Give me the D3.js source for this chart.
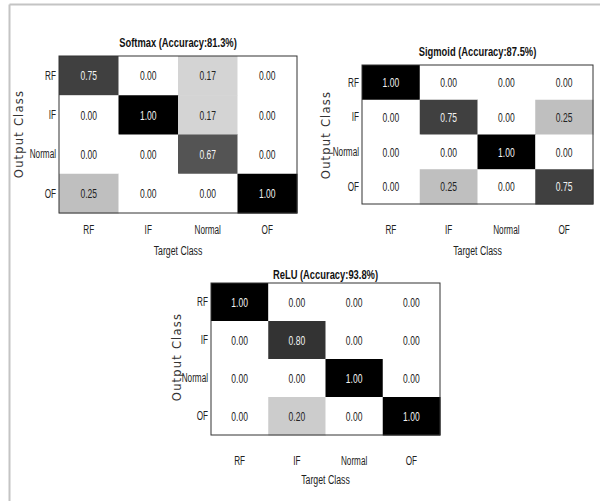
<!DOCTYPE html>
<html>
<head>
<meta charset="utf-8">
<script src="https://cdn.jsdelivr.net/npm/d3@7/dist/d3.min.js"></script>
<style>
  html, body { margin: 0; padding: 0; background: #fff; }
  svg { display: block; }
</style>
</head>
<body>
<script>
// ---------------- data ----------------
const classes = ["RF", "IF", "Normal", "OF"];
const panelTitles = ["Softmax (Accuracy:81.3%)", "Sigmoid (Accuracy:87.5%)", "ReLU (Accuracy:93.8%)"];
// rows = output class, columns = target class
const softmaxValues = [
  [0.75, 0.00, 0.17, 0.00],
  [0.00, 1.00, 0.17, 0.00],
  [0.00, 0.00, 0.67, 0.00],
  [0.25, 0.00, 0.00, 1.00]
];
const sigmoidValues = [
  [1.00, 0.00, 0.00, 0.00],
  [0.00, 0.75, 0.00, 0.25],
  [0.00, 0.00, 1.00, 0.00],
  [0.00, 0.25, 0.00, 0.75]
];
const reluValues = [
  [1.00, 0.00, 0.00, 0.00],
  [0.00, 0.80, 0.00, 0.00],
  [0.00, 0.00, 1.00, 0.00],
  [0.00, 0.20, 0.00, 1.00]
];
const xAxisTitle = "Target Class";
const yAxisTitle = "Output Class";

// ---------------- layout ----------------
const W = 600, H = 501;
const layouts = [
  { x0: 59,  x1: 297, y0: 56,  y1: 213, titleY: 47,  yTickX: 56,  yLabX: 23,  yLabY: 134, xTickY: 234, xLabY: 255 },
  { x0: 362, x1: 593, y0: 65,  y1: 204, titleY: 56,  yTickX: 359, yLabX: 330, yLabY: 135, xTickY: 234, xLabY: 255 },
  { x0: 211, x1: 440, y0: 283, y1: 435, titleY: 279, yTickX: 208, yLabX: 181, yLabY: 357, xTickY: 465, xLabY: 484 }
];
const panelValues = [softmaxValues, sigmoidValues, reluValues];

const narrowFont = "'Liberation Sans', Arial, sans-serif";

const svg = d3.select("body").append("svg")
  .attr("width", W).attr("height", H);

// outer frame (top and left only, like the reference)
svg.append("line").attr("x1", 9.5).attr("y1", 4.5).attr("x2", W).attr("y2", 4.5)
  .attr("stroke", "#c4c4c4").attr("stroke-width", 2);
svg.append("line").attr("x1", 9.5).attr("y1", 4.5).attr("x2", 9.5).attr("y2", H)
  .attr("stroke", "#c4c4c4").attr("stroke-width", 2);

const gray = d3.scaleLinear().domain([0, 1]).range(["#ffffff", "#000000"]);

function squeeze(sel, f) {
  sel.each(function () {
    const len = this.getComputedTextLength();
    d3.select(this).attr("textLength", len * f).attr("lengthAdjust", "spacingAndGlyphs");
  });
}

panelValues.forEach((vals, p) => {
  const L = layouts[p];
  const g = svg.append("g");
  const x = d3.scaleBand().domain(classes).range([L.x0, L.x1]);
  const y = d3.scaleBand().domain(classes).range([L.y0, L.y1]);

  const cells = [];
  vals.forEach((row, r) => row.forEach((v, c) => cells.push({ r: classes[r], c: classes[c], v })));

  g.selectAll("rect.cell").data(cells).join("rect")
    .attr("class", "cell")
    .attr("x", d => x(d.c)).attr("y", d => y(d.r))
    .attr("width", x.bandwidth() + 0.5).attr("height", y.bandwidth() + 0.5)
    .attr("fill", d => gray(d.v));

  g.selectAll("text.val").data(cells).join("text")
    .attr("class", "val")
    .attr("x", d => x(d.c) + x.bandwidth() / 2)
    .attr("y", d => y(d.r) + y.bandwidth() / 2)
    .attr("dy", "0.36em")
    .attr("text-anchor", "middle")
    .attr("font-family", narrowFont)
    .attr("font-size", 13.5)
    .attr("fill", d => d.v > 0.5 ? "#f4f4f4" : "#222222")
    .text(d => d3.format(".2f")(d.v))
    .call(squeeze, 0.63);

  // matrix border
  g.append("rect")
    .attr("x", L.x0).attr("y", L.y0)
    .attr("width", L.x1 - L.x0).attr("height", L.y1 - L.y0)
    .attr("fill", "none").attr("stroke", "#333").attr("stroke-width", 1);

  // title
  g.append("text")
    .attr("x", (L.x0 + L.x1) / 2).attr("y", L.titleY)
    .attr("text-anchor", "middle")
    .attr("font-family", narrowFont).attr("font-weight", "bold")
    .attr("font-size", 13).attr("fill", "#111")
    .text(panelTitles[p])
    .call(squeeze, 0.72);

  // y tick labels
  g.selectAll("text.ytick").data(classes).join("text")
    .attr("class", "ytick")
    .attr("x", L.yTickX)
    .attr("y", d => y(d) + y.bandwidth() / 2)
    .attr("dy", "0.36em")
    .attr("text-anchor", "end")
    .attr("font-family", narrowFont).attr("font-size", 12).attr("fill", "#222")
    .text(d => d)
    .call(squeeze, 0.68);

  // x tick labels
  g.selectAll("text.xtick").data(classes).join("text")
    .attr("class", "xtick")
    .attr("x", d => x(d) + x.bandwidth() / 2)
    .attr("y", L.xTickY)
    .attr("text-anchor", "middle")
    .attr("font-family", narrowFont).attr("font-size", 12).attr("fill", "#222")
    .text(d => d)
    .call(squeeze, 0.68);

  // x axis title
  g.append("text")
    .attr("x", (L.x0 + L.x1) / 2).attr("y", L.xLabY)
    .attr("text-anchor", "middle")
    .attr("font-family", narrowFont).attr("font-size", 12.5).attr("fill", "#222")
    .text(xAxisTitle)
    .call(squeeze, 0.7);

  // y axis title
  g.append("text")
    .attr("transform", `translate(${L.yLabX},${L.yLabY}) rotate(-90)`)
    .attr("text-anchor", "middle")
    .attr("font-family", "'DejaVu Sans', Verdana, sans-serif")
    .attr("font-size", 11.5).attr("letter-spacing", 1.2)
    .attr("fill", "#333")
    .text(yAxisTitle);
});
</script>
</body>
</html>
